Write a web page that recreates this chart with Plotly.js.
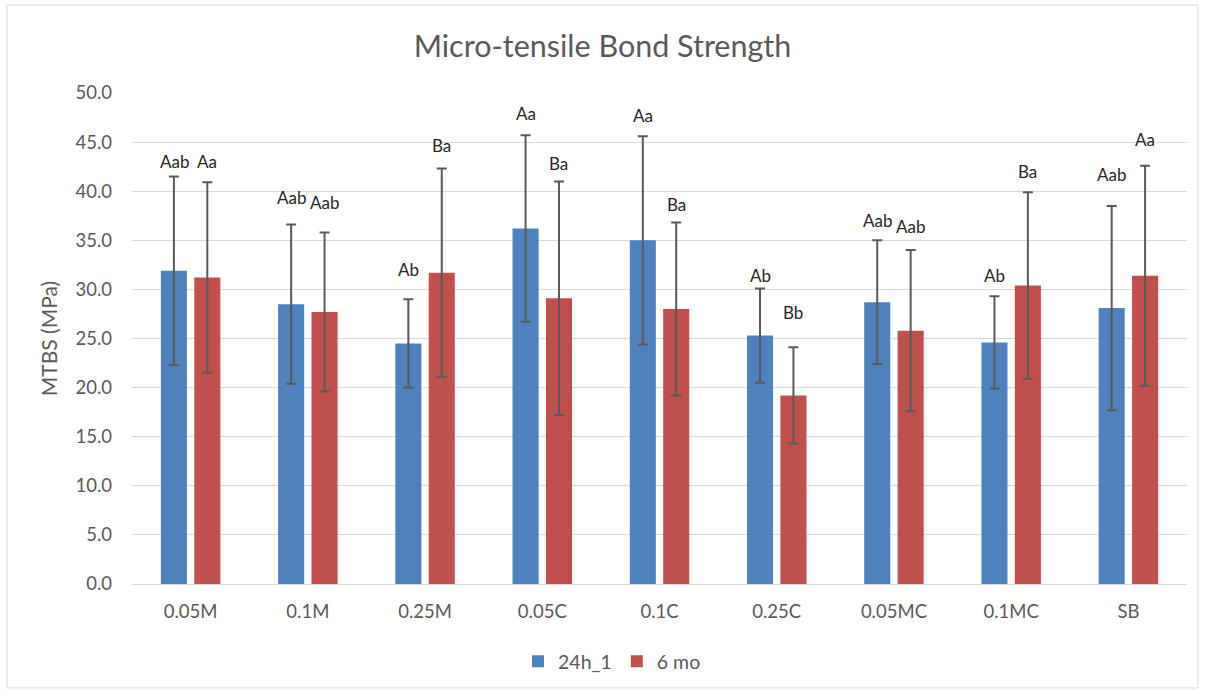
<!DOCTYPE html>
<html>
<head>
<meta charset="utf-8">
<script src="https://cdn.plot.ly/plotly-3.0.1.min.js"></script>
<style>html,body{margin:0;padding:0;background:#fff;}#chart{width:1205px;height:691px;}</style>
</head>
<body>
<div id="chart"></div>
<script>
const categories = ["0.05M","0.1M","0.25M","0.05C","0.1C","0.25C","0.05MC","0.1MC","SB"];
const seriesNames = ["24h_1","6 mo"];
const values24h = [31.9, 28.5, 24.5, 36.2, 35.0, 25.3, 28.7, 24.6, 28.1];
const err24h    = [9.6, 8.1, 4.5, 9.5, 10.6, 4.8, 6.3, 4.7, 10.4];
const values6mo = [31.2, 27.7, 31.7, 29.1, 28.0, 19.2, 25.8, 30.4, 31.4];
const err6mo    = [9.7, 8.1, 10.6, 11.9, 8.8, 4.9, 8.2, 9.5, 11.2];
const labels24h = ["Aab","Aab","Ab","Aa","Aa","Ab","Aab","Ab","Aab"];
const labels6mo = ["Aa","Aab","Ba","Ba","Ba","Bb","Aab","Ba","Aa"];
const labelY24h = [43.0, 39.4, 32.0, 47.9, 47.7, 31.4, 37.0, 31.4, 41.7];
const labelY6mo = [43.0, 38.8, 44.7, 42.8, 38.6, 27.6, 36.4, 42.0, 45.3];
const yTicks = [0,5,10,15,20,25,30,35,40,45,50];

const font = "Lato, 'Open Sans', sans-serif";
const gray = "#595959";

const errStyle = {type:"data", visible:true, color:"#595959", thickness:2, width:5};

const traces = [
  {type:"bar", name:seriesNames[0], x:categories, y:values24h, marker:{color:"#4f81bd"},
   error_y:Object.assign({array:err24h}, errStyle), hoverinfo:"x+y"},
  {type:"bar", name:seriesNames[1], x:categories, y:values6mo, marker:{color:"#c0504d"},
   error_y:Object.assign({array:err6mo}, errStyle), hoverinfo:"x+y"}
];

const annotations = [];
categories.forEach((c,i)=>{
  annotations.push({x:c, y:labelY24h[i], xref:"x", yref:"y", text:labels24h[i], showarrow:false,
    xshift:-16.5, font:{family:font, size:17, color:"#262626"}});
  annotations.push({x:c, y:labelY6mo[i], xref:"x", yref:"y", text:labels6mo[i], showarrow:false,
    xshift:16.5, font:{family:font, size:17, color:"#262626"}});
});

const layout = {
  width:1205, height:691,
  margin:{l:132, r:18, t:93, b:107, autoexpand:false},
  paper_bgcolor:"#fff", plot_bgcolor:"#fff",
  barmode:"group", bargap:0.43, bargroupgap:0.22,
  title:{text:"Micro-tensile Bond Strength", x:0.5, xanchor:"center", y:0.933, yanchor:"middle",
    font:{family:font, size:30.5, color:gray}},
  xaxis:{type:"category", showgrid:false, zeroline:false, showline:false, ticks:"",
    ticklabelstandoff:14,
    tickfont:{family:font, size:18.5, color:gray}, automargin:false},
  yaxis:{range:[0,50], tickvals:yTicks, tickformat:".1f", showgrid:true, gridcolor:"#d9d9d9", gridwidth:1,
    zeroline:true, zerolinecolor:"#d9d9d9", zerolinewidth:1, showline:false, ticks:"",
    ticklabelstandoff:19,
    tickfont:{family:font, size:18.5, color:gray}, automargin:false,
    title:{text:"MTBS (MPa)", standoff:12, font:{family:font, size:21, color:gray}}},
  showlegend:true,
  legend:{orientation:"h", x:0.455, xanchor:"center", y:-0.158, yanchor:"middle",
    font:{family:font, size:19.5, color:gray}, itemwidth:30, traceorder:"normal"},
  annotations:annotations,
  shapes:[{type:"rect", xref:"paper", yref:"paper", x0:-0.1185, x1:1.0104, y0:-0.2118, y1:1.179,
    line:{color:"#d9d9d9", width:1}, fillcolor:"rgba(0,0,0,0)", layer:"below"}]
};

Plotly.newPlot("chart", traces, layout, {displayModeBar:false, staticPlot:true});
</script>
</body>
</html>
